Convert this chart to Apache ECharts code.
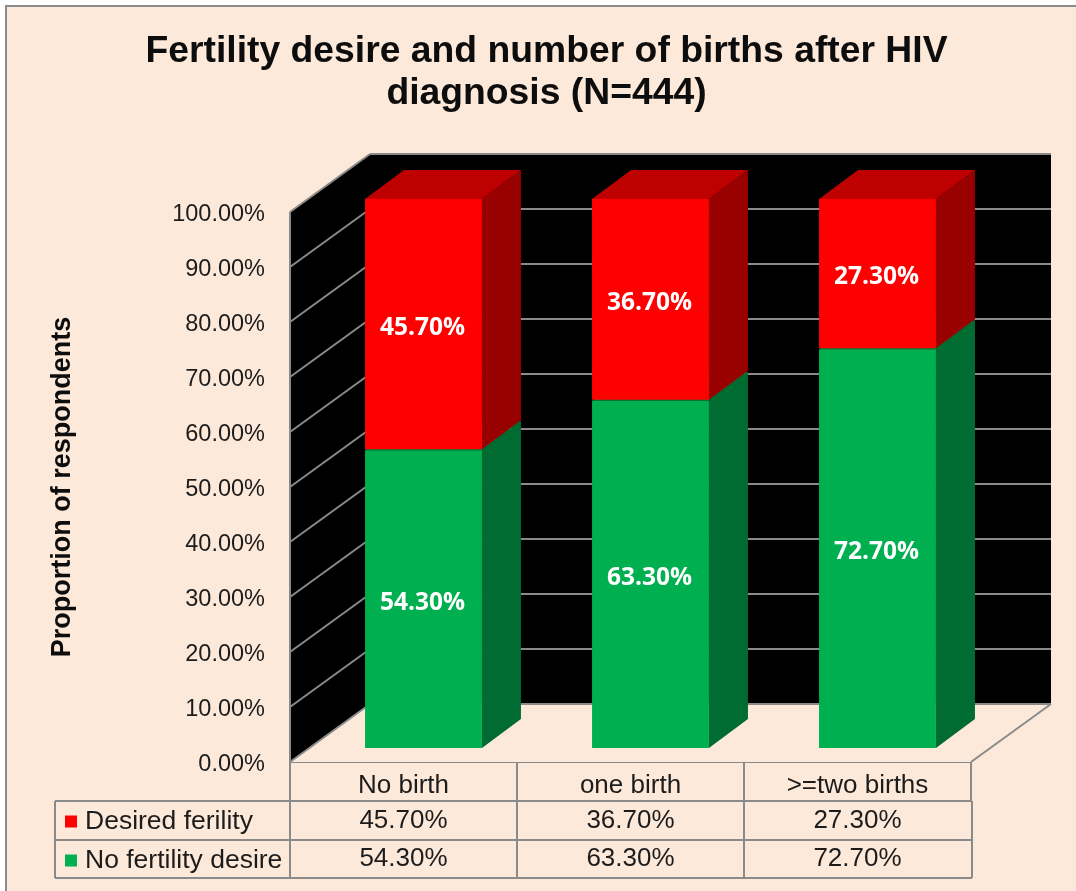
<!DOCTYPE html>
<html><head><meta charset="utf-8">
<style>html,body{margin:0;padding:0;background:#fff}#c{width:1076px;height:891px}</style>
<script src="https://cdn.jsdelivr.net/npm/echarts@6/dist/echarts.min.js"></script>
</head><body><div id="c"></div>
<script>
const titleText = 'Fertility desire and number of births after HIV\ndiagnosis (N=444)';
const yAxisTitle = 'Proportion of respondents';
const categories = ['No birth', 'one birth', '>=two births'];
const desiredFertility = [45.7, 36.7, 27.3];
const noFertilityDesire = [54.3, 63.3, 72.7];
const wallTicks = [0, 10, 20, 30, 40, 50, 60, 70, 80, 90, 100];
const seriesNames = ['Desired ferility', 'No fertility desire'];

const GRAY = '#8a8a8a', BG = '#FDE9D9', TXT = '#1c1c1c';
const FONT = '"Liberation Sans", Arial, sans-serif';
const DX = 80, DY = -58;           // full floor depth
const BDX = 39, BDY = -29;         // bar depth
const OX = 20, OY = -14;           // bar offset from the front plane
const ROWS = [821, 859];

const chart = echarts.init(document.getElementById('c'), null, {renderer: 'canvas'});

function wallItem(params, api) {
  const v = api.value(0);
  const cs = params.coordSys;
  const l = cs.x, r = cs.x + cs.width;
  const y = api.coord([0, v])[1];
  const line = (x1, y1, x2, y2) => ({type: 'line', shape: {x1, y1, x2, y2}, style: {stroke: GRAY, lineWidth: 2}});
  const children = [];
  if (params.dataIndex === 0) {
    const yT = cs.y, yB = cs.y + cs.height;
    children.push({type: 'polygon', shape: {points: [[l, yT], [l + DX, yT + DY], [r + DX, yT + DY], [r + DX, yB + DY], [l + DX, yB + DY], [l, yB]]}, style: {fill: '#000'}});
    children.push({type: 'polygon', shape: {points: [[l, yB], [l + DX, yB + DY], [r + DX, yB + DY], [r, yB]]}, style: {fill: BG}});
    children.push(line(l, yT, l, yB));
    children.push(line(r, yB, r + DX, yB + DY));
  }
  children.push(line(l, y, l + DX, y + DY));
  children.push(line(l + DX, y + DY, r + DX, y + DY));
  return {type: 'group', children};
}

function barRenderer(front, side, top, row) {
  return function (params, api) {
    const i = api.value(0), base = api.value(1), end = api.value(2);
    const p0 = api.coord([i, base]), p1 = api.coord([i, end]);
    const w = api.size([1, 0])[0] * 0.515;
    const x0 = p0[0] - w / 2 + OX, x1 = x0 + w;
    const yb = p0[1] + OY, yt = p1[1] + OY + 1;
    const tableLabel = (end - base).toFixed(2) + '%';
    return {type: 'group', children: [
      {type: 'polygon', shape: {points: [[x1, yb], [x1 + BDX, yb + BDY], [x1 + BDX, yt + BDY], [x1, yt]]}, style: {fill: side}},
      {type: 'polygon', shape: {points: [[x0, yt], [x0 + BDX, yt + BDY], [x1 + BDX, yt + BDY], [x1, yt]]}, style: {fill: top}},
      {type: 'rect', shape: {x: x0, y: yt, width: w, height: yb - yt}, style: {fill: front}},
      {type: 'text', style: {x: (x0 + x1) / 2 - 1, y: (yb + yt) / 2 + 3.5, text: tableLabel, fill: '#fff',
        font: 'bold 24.5px "Open Sans", sans-serif', align: 'center', verticalAlign: 'middle'}},
      {type: 'text', style: {x: p0[0], y: ROWS[row], text: tableLabel, fill: TXT,
        font: '26px ' + FONT, align: 'center', verticalAlign: 'middle'}}
    ]};
  };
}

const noDesireData = noFertilityDesire.map((v, i) => [i, 0, v]);
const desiredData = desiredFertility.map((v, i) => [i, noFertilityDesire[i], noFertilityDesire[i] + v]);

const hLines = [[55, 801, 972, 801], [55, 840, 972, 840], [55, 878, 972, 878], [55, 801, 55, 878],
  [290, 762, 290, 878], [517, 801, 517, 878], [744, 801, 744, 878], [972, 801, 972, 878]];

chart.setOption({
  animation: false,
  backgroundColor: '#fff',
  title: {
    text: titleText, left: 541.5, top: 26, textAlign: 'center',
    textStyle: {fontFamily: FONT, fontWeight: 'bold', fontSize: 37.3, lineHeight: 42, color: '#0d0d0d'}
  },
  graphic: [
    {type: 'rect', z: -10, shape: {x: 6, y: 6, width: 1090, height: 900}, style: {fill: BG, stroke: GRAY, lineWidth: 2}},
    ...hLines.map(l => ({type: 'line', z: 5, shape: {x1: l[0], y1: l[1], x2: l[2], y2: l[3]}, style: {stroke: GRAY, lineWidth: 2}}))
  ],
  legend: {
    orient: 'vertical', left: 60, top: 803, itemWidth: 12, itemHeight: 12, itemGap: 12, selectedMode: false,
    data: seriesNames.map(n => ({name: n, icon: 'rect'})),
    textStyle: {fontFamily: FONT, fontSize: 26.5, color: TXT, padding: [0, 0, 0, 3], lineHeight: 26}
  },
  grid: {left: 290, top: 212, width: 681, height: 550},
  xAxis: {
    type: 'category', data: categories,
    axisLine: {lineStyle: {color: GRAY, width: 2}},
    axisTick: {show: true, length: 39, lineStyle: {color: GRAY, width: 2}},
    axisLabel: {fontFamily: FONT, fontSize: 26, color: TXT, margin: 11, interval: 0},
    splitLine: {show: false}
  },
  yAxis: {
    type: 'value', min: 0, max: 100, interval: 10,
    name: yAxisTitle, nameLocation: 'middle', nameGap: 214, nameRotate: 90,
    nameTextStyle: {fontFamily: FONT, fontWeight: 'bold', fontSize: 27, color: '#0d0d0d'},
    axisLine: {show: false}, axisTick: {show: false}, splitLine: {show: false},
    axisLabel: {color: TXT, margin: 25, formatter: v => '{t|' + v.toFixed(2) + '%}',
      rich: {t: {fontFamily: FONT, fontSize: 23.5, color: TXT, padding: [6, 0, 0, 0]}}}
  },
  series: [
    {type: 'custom', name: 'walls', silent: true, z: 1, data: wallTicks.map(v => [v]), encode: {y: 0}, renderItem: wallItem},
    {type: 'custom', name: seriesNames[1], z: 3, itemStyle: {color: '#00B050'}, data: noDesireData,
      encode: {x: 0, y: [1, 2]}, renderItem: barRenderer('#00B050', '#006C31', '#00843C', 1)},
    {type: 'custom', name: seriesNames[0], z: 4, itemStyle: {color: '#FF0000'}, data: desiredData,
      encode: {x: 0, y: [1, 2]}, renderItem: barRenderer('#FF0000', '#990000', '#BF0000', 0)}
  ]
});
</script></body></html>
